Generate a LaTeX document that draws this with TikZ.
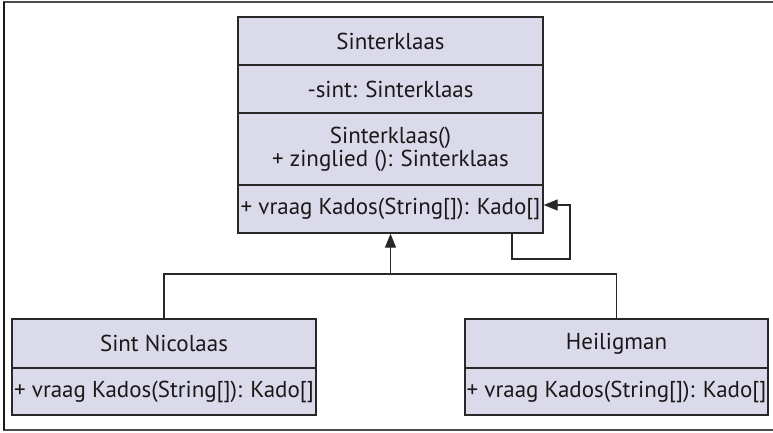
\documentclass[tikz,border=0pt]{standalone}
\usepackage{fontspec}
\setmainfont{PT Sans}
\usetikzlibrary{arrows.meta}
\definecolor{boxfill}{RGB}{218,218,234}
\definecolor{edge}{RGB}{40,40,40}
\tikzset{
  umlpart/.style={draw=edge, fill=boxfill, line width=1.4pt, rectangle, inner sep=0pt,
    align=center, font=\fontsize{23}{23}\selectfont, text=black!90},
  conn/.style={draw=edge, line width=1.4pt},
  tri/.style={-{Triangle[length=14pt,width=11pt]}},
  framel/.style={line width=1.6pt}
}
\begin{document}
\begin{tikzpicture}[x=1pt,y=-1pt]
\useasboundingbox (0,0) rectangle (773,433);
% frame
\draw[framel, draw=black!70] (3,2) -- (773,2);
\draw[framel, draw=black!70] (3,430) -- (773,430);
\draw[framel, draw=black!90] (4,2) -- (4,430);
% Sinterklaas
\node[umlpart, minimum width=305pt, minimum height=48pt] (stitle) at (390.5,41) {Sinterklaas};
\node[umlpart, minimum width=305pt, minimum height=48pt] (sattr) at (390.5,89) {-sint: Sinterklaas};
\node[umlpart, minimum width=305pt, minimum height=72pt] (sops) at (390.5,149) {Sinterklaas()\\+ zinglied (): Sinterklaas};
\node[umlpart, minimum width=305pt, minimum height=48pt] (smeth) at (390.5,209) {+ vraag Kados(String[]): Kado[]};
% Sint Nicolaas
\node[umlpart, minimum width=304pt, minimum height=49pt] (ntitle) at (164,343.5) {Sint Nicolaas};
\node[umlpart, minimum width=304pt, minimum height=47pt] (nmeth) at (164,391.5) {+ vraag Kados(String[]): Kado[]};
% Heiligman
\node[umlpart, minimum width=303pt, minimum height=49pt] (htitle) at (616.5,343.5) {Heiligman};
\node[umlpart, minimum width=303pt, minimum height=47pt] (hmeth) at (616.5,391.5) {+ vraag Kados(String[]): Kado[]};
% inheritance
\coordinate (junc) at (390.5,274);
\draw[conn] (ntitle.north) |- (junc) -| (htitle.north);
\draw[conn, tri] (junc) -- (smeth.south);
% self loop
\coordinate (loopstart) at ([xshift=121.5pt]smeth.south);
\coordinate (loopcorner) at (570,259);
\draw[conn, tri] (loopstart) |- (loopcorner) |- ([yshift=4pt]smeth.east);
\end{tikzpicture}
\end{document}
